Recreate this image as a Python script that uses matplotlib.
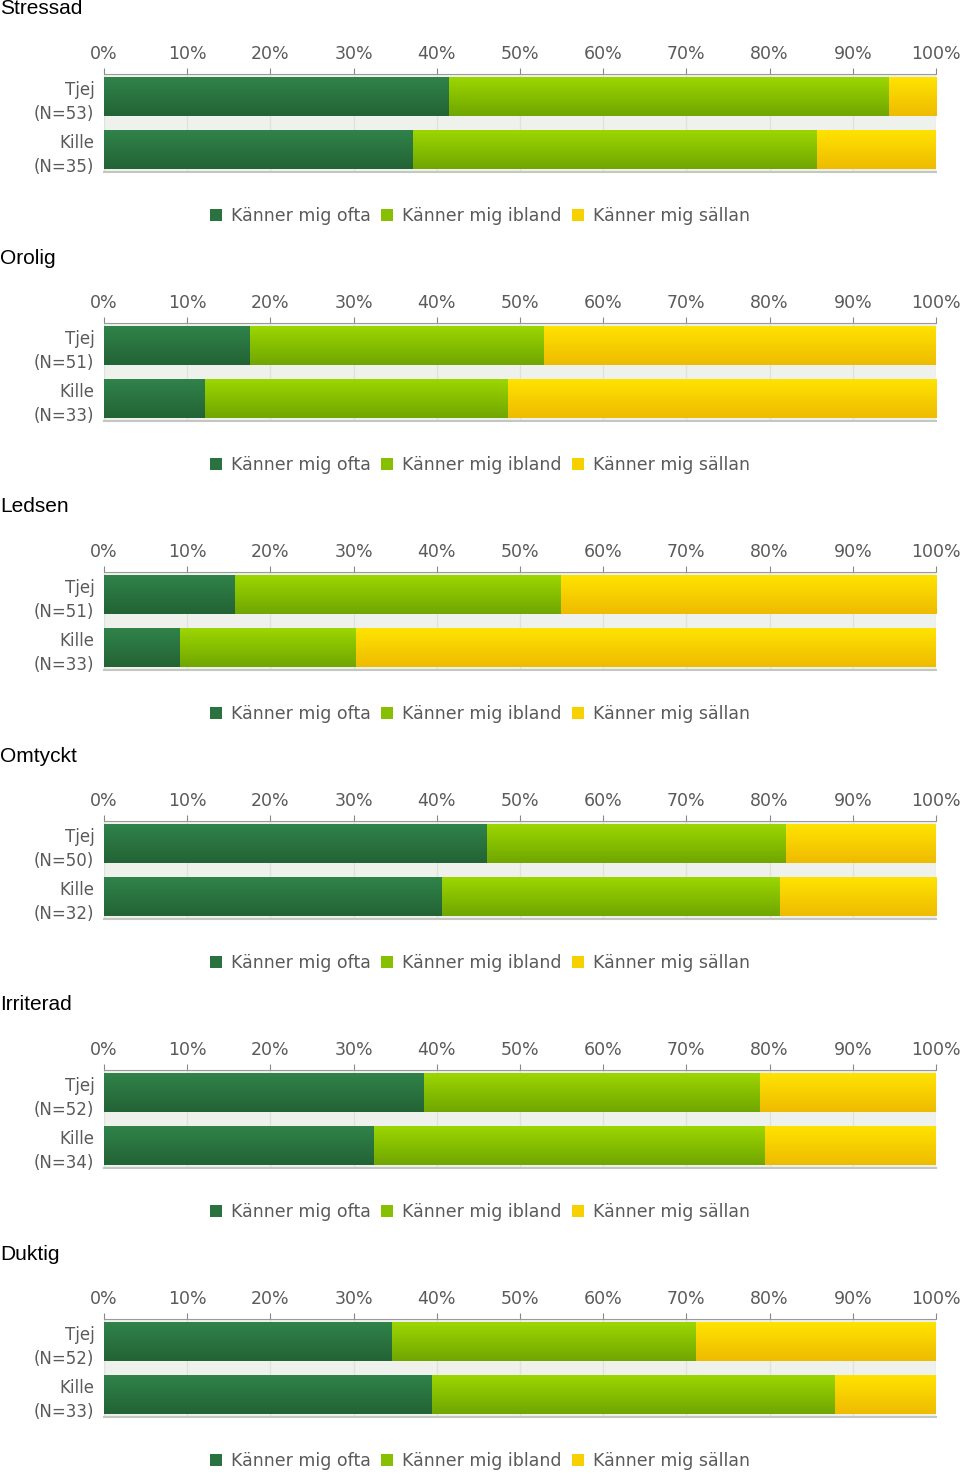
import numpy as np
import matplotlib
matplotlib.use("Agg")
import matplotlib.pyplot as plt
from matplotlib.patches import Patch
from matplotlib.colors import to_rgb

# data: percent per group (Tjej, Kille) for each question
questions = ["Stressad", "Orolig", "Ledsen", "Omtyckt", "Irriterad", "Duktig"]
n_tjej = [53, 51, 51, 50, 52, 52]
n_kille = [35, 33, 33, 32, 34, 33]

ofta_tjej = [41.5, 17.6, 15.7, 46.0, 38.5, 34.6]
ibland_tjej = [52.8, 35.3, 39.2, 36.0, 40.4, 36.5]
sallan_tjej = [5.7, 47.1, 45.1, 18.0, 21.2, 28.8]

ofta_kille = [37.1, 12.1, 9.1, 40.6, 32.4, 39.4]
ibland_kille = [48.6, 36.4, 21.2, 40.6, 47.1, 48.5]
sallan_kille = [14.3, 51.5, 69.7, 18.8, 20.6, 12.1]

series_names = ["Känner mig ofta", "Känner mig ibland", "Känner mig sällan"]
ticks = [0, 10, 20, 30, 40, 50, 60, 70, 80, 90, 100]

# gradient colours (top, bottom) and flat legend colours
grads = [("#30834a", "#236335"), ("#9cd600", "#70a600"), ("#ffe300", "#eebb00")]
flat = ["#2a7340", "#86c000", "#f7d000"]

W, H = 960, 1473
step = 249
fig = plt.figure(figsize=(W / 100, H / 100), dpi=100)
grey = "#5a5a5a"


def gradient(c1, c2, n=64):
    a = np.array(to_rgb(c1))
    b = np.array(to_rgb(c2))
    t = np.linspace(0, 1, n)[:, None]
    return (a * (1 - t) + b * t)[:, None, :]


for i, q in enumerate(questions):
    off = step * i
    top, bot = 74 + off, 172 + off
    ax = fig.add_axes([104 / W, 1 - bot / H, 832 / W, (bot - top) / H])
    ax.set_facecolor("#eff1ec")

    vals = [[ofta_tjej[i], ofta_kille[i]],
            [ibland_tjej[i], ibland_kille[i]],
            [sallan_tjej[i], sallan_kille[i]]]
    left = np.zeros(2)
    y = np.arange(2)
    for k, v in enumerate(vals):
        bars = ax.barh(y, v, left=left, height=0.72, color=flat[k], zorder=2)
        img = gradient(*grads[k])
        for p in bars.patches:
            x0, y0 = p.get_x(), p.get_y()
            ax.imshow(img, extent=(x0, x0 + p.get_width(), y0 + p.get_height(), y0),
                      aspect="auto", zorder=3, interpolation="bilinear")
        left += np.array(v)

    ax.set_xlim(0, 100)
    ax.set_ylim(1.415, -0.434)
    ax.xaxis.tick_top()
    ax.set_xticks(ticks)
    ax.set_xticklabels([f"{t}%" for t in ticks])
    ax.tick_params(axis="x", colors="#888888", labelcolor=grey, length=4,
                   pad=4, labelsize=12.5)
    ax.set_yticks(y)
    ax.set_yticklabels([f"Tjej\n(N={n_tjej[i]})", f"Kille\n(N={n_kille[i]})"],
                       linespacing=1.42)
    ax.tick_params(axis="y", length=0, pad=7, labelcolor=grey, labelsize=12)
    ax.grid(axis="x", color="#e0e2dc", linewidth=1, zorder=1)
    ax.set_axisbelow(True)
    for s in ["left", "right"]:
        ax.spines[s].set_visible(False)
    ax.spines["top"].set_color("#9a9a9a")
    ax.spines["bottom"].set_color("#c4c6c0")
    ax.spines["bottom"].set_linewidth(1.5)

    fig.text(0, 1 - (9 + off) / H, q, ha="left", va="center",
             fontsize=15, family="Liberation Sans", color="black")

    handles = [Patch(facecolor=flat[k], edgecolor="none") for k in range(3)]
    ax.legend(handles, series_names, loc="center", ncol=3, frameon=False,
              bbox_to_anchor=(0.5, 1 - (216 + off) / H), bbox_transform=fig.transFigure,
              handlelength=0.7, handleheight=0.7, handletextpad=0.5,
              columnspacing=0.6, fontsize=12.5, labelcolor=grey)

fig.savefig("out.png", dpi=100)
